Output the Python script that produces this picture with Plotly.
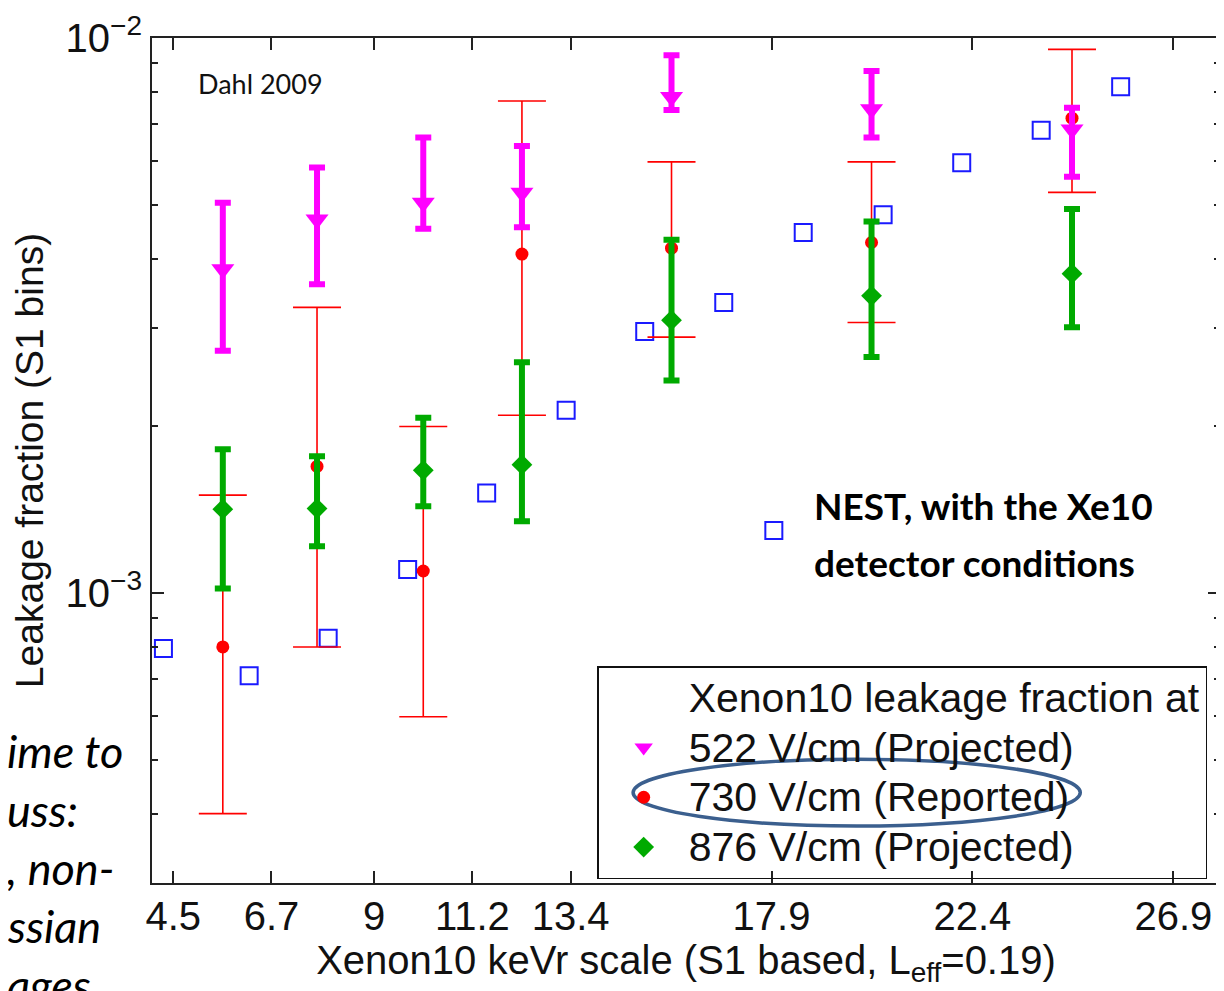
import plotly.graph_objects as go

# ---------------- data ----------------
bins_kevr = [5.61, 7.72, 10.10, 12.31, 15.66, 20.14, 24.63]

v522_y = [3.83e-3, 4.71e-3, 5.05e-3, 5.26e-3, 7.83e-3, 7.44e-3, 6.84e-3]
v522_hi = [5.05e-3, 5.84e-3, 6.62e-3, 6.39e-3, 9.31e-3, 8.72e-3, 7.49e-3]
v522_lo = [2.73e-3, 3.60e-3, 4.53e-3, 4.56e-3, 7.42e-3, 6.62e-3, 5.62e-3]

v730_y = [7.99e-4, 1.69e-3, 1.095e-3, 4.08e-3, 4.18e-3, 4.28e-3, 7.17e-3]
v730_hi = [1.50e-3, 3.27e-3, 1.995e-3, 7.70e-3, 5.98e-3, 5.98e-3, 9.54e-3]
v730_lo = [4.00e-4, 7.99e-4, 5.98e-4, 2.09e-3, 2.89e-3, 3.07e-3, 5.27e-3]

v876_y = [1.415e-3, 1.419e-3, 1.663e-3, 1.702e-3, 3.10e-3, 3.43e-3, 3.76e-3]
v876_hi = [1.814e-3, 1.762e-3, 2.068e-3, 2.604e-3, 4.33e-3, 4.67e-3, 4.92e-3]
v876_lo = [1.018e-3, 1.213e-3, 1.432e-3, 1.346e-3, 2.414e-3, 2.66e-3, 3.01e-3]

nest_x = [4.28, 6.20, 7.97, 9.75, 11.52, 13.30, 15.06, 16.83, 18.61, 20.40, 22.16, 23.94, 25.72]
nest_y = [7.94e-4, 7.09e-4, 8.28e-4, 1.102e-3, 1.514e-3, 2.133e-3, 2.957e-3,
          3.335e-3, 4.46e-3, 4.80e-3, 5.96e-3, 6.82e-3, 8.17e-3]

x_ticks = [4.5, 6.7, 9, 11.2, 13.4, 17.9, 22.4, 26.9]
x_ticktext = ["4.5", "6.7", "9", "11.2", "13.4", "17.9", "22.4", "26.9"]
y_ticks = [1e-3, 1e-2]
y_ticktext = ["10<sup>−3</sup>", "10<sup>−2</sup>"]
y_minor = [4e-4, 5e-4, 6e-4, 7e-4, 8e-4, 9e-4,
           2e-3, 3e-3, 4e-3, 5e-3, 6e-3, 7e-3, 8e-3, 9e-3]

legend_title = "Xenon10 leakage fraction at"
names = ["522 V/cm (Projected)", "730 V/cm (Reported)", "876 V/cm (Projected)"]
side_text = ["ime to", "uss:", ", non-", "ssian", "ages"]

# ---------------- geometry helpers ----------------
# the page body has an 8px margin, so the figure starts at page (8, 8)
OFF = 8
W, H = 1224 - OFF, 991 - OFF
L, R, T, B = 152 - OFF, 2, 37 - OFF, 108
PW, PH = W - L - R, H - T - B


def px(xp):  # page pixel x -> paper
    return (xp - OFF - L) / PW


def py(yp):  # page pixel y -> paper
    return (OFF + H - B - yp) / PH


FONT = "Liberation Sans, Arial, sans-serif"
CAL = "Lato, Open Sans, sans-serif"
AX = "#222222"
TXT = "#111111"


def err(y, hi, lo):
    return [h - v for v, h in zip(y, hi)], [v - l for v, l in zip(y, lo)]


def big(s):
    return '<span style="font-size:41px">' + s + '</span>'


fig = go.Figure()

# NEST squares
fig.add_trace(go.Scatter(
    x=nest_x, y=nest_y, mode="markers", showlegend=False,
    marker=dict(symbol="square-open", size=17, color="#1a1aff", line=dict(width=2, color="#1a1aff")),
))

# legend heading as an invisible entry
fig.add_trace(go.Scatter(
    x=[None], y=[None], mode="markers", name=big(legend_title), legendrank=1,
    marker=dict(color="rgba(0,0,0,0)", size=10),
))

# 730 V/cm reported (red)
p, m = err(v730_y, v730_hi, v730_lo)
fig.add_trace(go.Scatter(
    x=bins_kevr, y=v730_y, mode="markers", name=big(names[1]), legendrank=3,
    marker=dict(symbol="circle", size=13, color="#ff0000"),
    error_y=dict(type="data", symmetric=False, array=p, arrayminus=m,
                 color="#ff0000", thickness=1.6, width=24),
))

# 522 V/cm projected (magenta)
p, m = err(v522_y, v522_hi, v522_lo)
fig.add_trace(go.Scatter(
    x=bins_kevr, y=v522_y, mode="markers", name=big(names[0]), legendrank=2,
    marker=dict(symbol="triangle-down", size=20, color="#ff00ff"),
    error_y=dict(type="data", symmetric=False, array=p, arrayminus=m,
                 color="#ff00ff", thickness=6, width=8),
))

# 876 V/cm projected (green)
p, m = err(v876_y, v876_hi, v876_lo)
fig.add_trace(go.Scatter(
    x=bins_kevr, y=v876_y, mode="markers", name=big(names[2]), legendrank=4,
    marker=dict(symbol="diamond", size=16, color="#00aa00"),
    error_y=dict(type="data", symmetric=False, array=p, arrayminus=m,
                 color="#00aa00", thickness=6, width=8),
))

annotations = [
    dict(text="Dahl 2009", xref="paper", yref="paper", x=px(196), y=py(83),
         xanchor="left", yanchor="middle", showarrow=False,
         font=dict(family=CAL, size=27, color=TXT)),
    dict(text="<b>NEST, with the Xe10</b>", xref="paper", yref="paper", x=px(813), y=py(505),
         xanchor="left", yanchor="middle", showarrow=False,
         font=dict(family=CAL, size=37, color="#000000")),
    dict(text="<b>detector conditions</b>", xref="paper", yref="paper", x=px(813), y=py(562),
         xanchor="left", yanchor="middle", showarrow=False,
         font=dict(family=CAL, size=37, color="#000000")),
]
for i, t in enumerate(side_text):
    annotations.append(dict(
        text="<i>" + t + "</i>", xref="paper", yref="paper", x=px(OFF - 3), y=py(751 + 58.5 * i),
        xanchor="left", yanchor="middle", showarrow=False,
        font=dict(family=CAL, size=45, color="#000000")))

shapes = [
    # NEST key square
    dict(type="rect", xref="paper", yref="paper", xsizemode="pixel", ysizemode="pixel",
         xanchor=px(775), yanchor=py(530), x0=-8.5, x1=8.5, y0=-8.5, y1=8.5,
         line=dict(color="#1a1aff", width=2), layer="above"),
    # highlight ellipse
    dict(type="circle", xref="paper", yref="paper", x0=px(634), x1=px(1082),
         y0=py(826), y1=py(759), line=dict(color="#3b5f8e", width=3.5), layer="above"),
]

fig.update_layout(
    width=W, height=H,
    margin=dict(l=L, r=R, t=T, b=B),
    paper_bgcolor="white", plot_bgcolor="white",
    font=dict(family=FONT, size=38, color=TXT),
    showlegend=True,
    legend=dict(
        x=px(598), y=py(666), xanchor="left", yanchor="top",
        bgcolor="rgba(0,0,0,0)", bordercolor=TXT, borderwidth=1.5,
        font=dict(family=FONT, size=36, color=TXT),
        itemwidth=80, traceorder="normal",
    ),
    annotations=annotations,
    shapes=shapes,
)

fig.update_xaxes(
    range=[4.024, 27.945], tickmode="array", tickvals=x_ticks, ticktext=x_ticktext,
    ticks="inside", ticklen=12, tickwidth=1.5, tickcolor=AX,
    showline=True, linewidth=2, linecolor=AX, mirror="ticks",
    showgrid=False, zeroline=False, ticklabelstandoff=-3,
    tickfont=dict(family=FONT, size=40, color=TXT),
    title=dict(text="Xenon10 keVr scale (S1 based, L<sub>eff</sub>=0.19)",
               font=dict(family=FONT, size=40, color=TXT), standoff=0),
)
fig.update_yaxes(
    type="log", range=[-3.5229, -2], tickmode="array", tickvals=y_ticks, ticktext=y_ticktext,
    ticks="inside", ticklen=12, tickwidth=1.5, tickcolor=AX,
    minor=dict(tickmode="array", tickvals=y_minor, ticks="inside", ticklen=6,
               tickwidth=1.5, tickcolor=AX, showgrid=False),
    showline=True, linewidth=2, linecolor=AX, mirror="ticks",
    showgrid=False, zeroline=False,
    tickfont=dict(family=FONT, size=40, color=TXT),
    title=dict(text="Leakage fraction (S1 bins)",
               font=dict(family=FONT, size=39, color=TXT), standoff=11),
)

fig.write_html("out.html")
